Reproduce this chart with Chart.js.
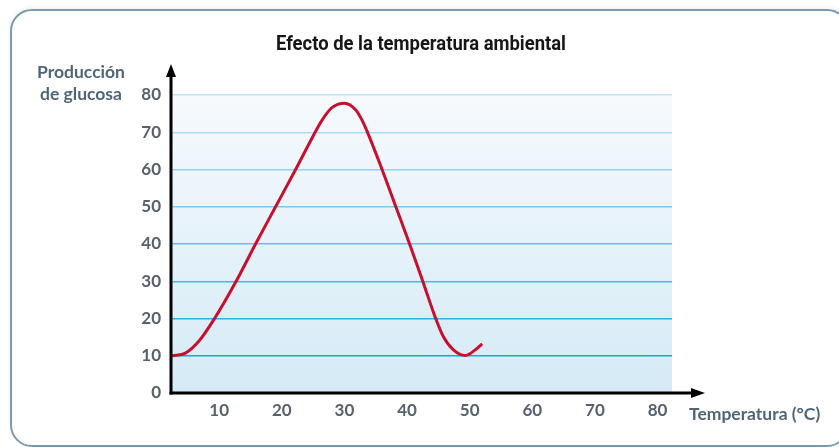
<!DOCTYPE html>
<html lang="es">
<head>
<meta charset="utf-8">
<title>Efecto de la temperatura ambiental</title>
<script src="https://cdn.jsdelivr.net/npm/chart.js@4/dist/chart.umd.min.js"></script>
<style>
  html, body { margin: 0; padding: 0; background: #fff; overflow: hidden; }
  .frame {
    position: absolute; left: 10px; top: 9px; width: 835px; height: 434px;
    border: 2px solid #7d97ab; border-radius: 22px;
    box-shadow: 0 -2px 4px rgba(0, 0, 0, 0.06);
  }
  #chart { position: absolute; left: 0; top: 0; }
</style>
</head>
<body>
<div class="frame"></div>
<canvas id="chart" width="839" height="447"></canvas>
<script>
'use strict';

// Datos
const temperatura = [2.5, 4.6, 6.7, 9.25, 12.7, 15.8, 19, 22.2, 25, 26.4, 28, 30, 31.8, 32.7, 33.6, 36, 38.2, 40.4, 42.5, 44.5, 45.8, 47.4, 49.3, 50.9, 52];
const glucosa     = [10, 10.7, 13.8, 20, 30, 40, 50, 60, 69, 73.2, 76.6, 77.8, 76, 73.6, 70.3, 60, 50, 40, 30, 20.3, 15.1, 11.6, 10.1, 11.6, 13.2];
const xTicks = [10, 20, 30, 40, 50, 60, 70, 80];
const yTicks = [0, 10, 20, 30, 40, 50, 60, 70, 80];

const TITLE = 'Efecto de la temperatura ambiental';
const Y_LABEL = ['Producción', 'de glucosa'];
const X_LABEL = 'Temperatura (°C)';

const tickFont = { family: 'Lato, "Open Sans", sans-serif', size: 17, weight: 'bold' };
const tickColor = '#56616c';
const labelColor = '#4f6679';

/** Grid colour: pale near the top, saturated cyan near the bottom. */
function gridColor(value) {
  const t = Math.min(1, Math.max(0, (value - 10) / 70));
  const a = [10, 172, 226], b = [196, 230, 245];
  const c = a.map((v, i) => Math.round(v + (b[i] - v) * t));
  return `rgb(${c[0]},${c[1]},${c[2]})`;
}

/** Draw text squeezed horizontally to a target width (condensed look). */
function fillFitted(ctx, text, cx, cy, width) {
  const w = ctx.measureText(text).width;
  const k = Math.min(1, width / w);
  ctx.save();
  ctx.translate(cx, cy);
  ctx.scale(k, 1);
  ctx.fillText(text, 0, 0);
  ctx.restore();
}

const decor = {
  id: 'decor',
  beforeDraw(chart) {
    const { ctx, chartArea: a } = chart;
    const g = ctx.createLinearGradient(0, a.top, 0, a.bottom);
    g.addColorStop(0, '#f6fafd');
    g.addColorStop(1, '#d5eaf6');
    ctx.save();
    ctx.fillStyle = g;
    ctx.fillRect(a.left, a.top, a.right - a.left, a.bottom - a.top);
    ctx.restore();
  },
  afterDraw(chart) {
    const { ctx, chartArea: a } = chart;
    ctx.save();
    ctx.strokeStyle = '#000';
    ctx.fillStyle = '#000';
    ctx.lineWidth = 3;

    // eje Y con flecha
    const yTop = a.top - 31;
    ctx.beginPath();
    ctx.moveTo(a.left, a.bottom + 1.5);
    ctx.lineTo(a.left, yTop + 8);
    ctx.stroke();
    ctx.beginPath();
    ctx.moveTo(a.left, yTop);
    ctx.lineTo(a.left - 5, yTop + 13);
    ctx.lineTo(a.left + 5, yTop + 13);
    ctx.closePath();
    ctx.fill();

    // eje X con flecha
    const xEnd = a.right + 33;
    ctx.beginPath();
    ctx.moveTo(a.left - 1.5, a.bottom);
    ctx.lineTo(xEnd - 8, a.bottom);
    ctx.stroke();
    ctx.beginPath();
    ctx.moveTo(xEnd, a.bottom);
    ctx.lineTo(xEnd - 14, a.bottom - 5);
    ctx.lineTo(xEnd - 14, a.bottom + 5);
    ctx.closePath();
    ctx.fill();

    // textos
    ctx.textBaseline = 'middle';
    ctx.textAlign = 'center';
    ctx.fillStyle = '#161616';
    ctx.font = 'bold 20px Roboto, "DejaVu Sans", sans-serif';
    fillFitted(ctx, TITLE, 421, 45, 290);

    ctx.fillStyle = labelColor;
    ctx.font = 'bold 17.5px Lato, "Open Sans", sans-serif';
    ctx.fillText(Y_LABEL[0], 81, 72);
    ctx.fillText(Y_LABEL[1], 81, 94);
    ctx.textAlign = 'left';
    ctx.fillText(X_LABEL, 689, 414);
    ctx.restore();
  },
};

new Chart(document.getElementById('chart'), {
  type: 'line',
  data: {
    datasets: [{
      data: temperatura.map((t, i) => ({ x: t, y: glucosa[i] })),
      borderColor: '#c8102e',
      borderWidth: 3,
      pointRadius: 0,
      cubicInterpolationMode: 'monotone',
      fill: false,
    }],
  },
  options: {
    responsive: false,
    animation: false,
    devicePixelRatio: 1,
    layout: { padding: { top: 95, right: 167, left: 0, bottom: 0 } },
    plugins: { legend: { display: false }, tooltip: { enabled: false } },
    scales: {
      x: {
        type: 'linear',
        min: 2.3,
        max: 82.3,
        afterBuildTicks: (s) => { s.ticks = xTicks.map(v => ({ value: v })); },
        afterFit: (s) => { s.height = 54; },
        grid: { display: false, drawTicks: false },
        border: { display: false },
        ticks: { font: tickFont, color: tickColor, padding: 7, maxRotation: 0 },
      },
      y: {
        min: 0,
        max: 80,
        afterBuildTicks: (s) => { s.ticks = yTicks.map(v => ({ value: v })); },
        afterFit: (s) => { s.width = 171; },
        grid: {
          drawTicks: false,
          lineWidth: (c) => (c.tick && c.tick.value === 0 ? 0 : 1.5),
          color: (c) => gridColor(c.tick ? c.tick.value : 0),
        },
        border: { display: false },
        ticks: { font: tickFont, color: tickColor, padding: 10 },
      },
    },
  },
  plugins: [decor],
});
</script>
</body>
</html>
